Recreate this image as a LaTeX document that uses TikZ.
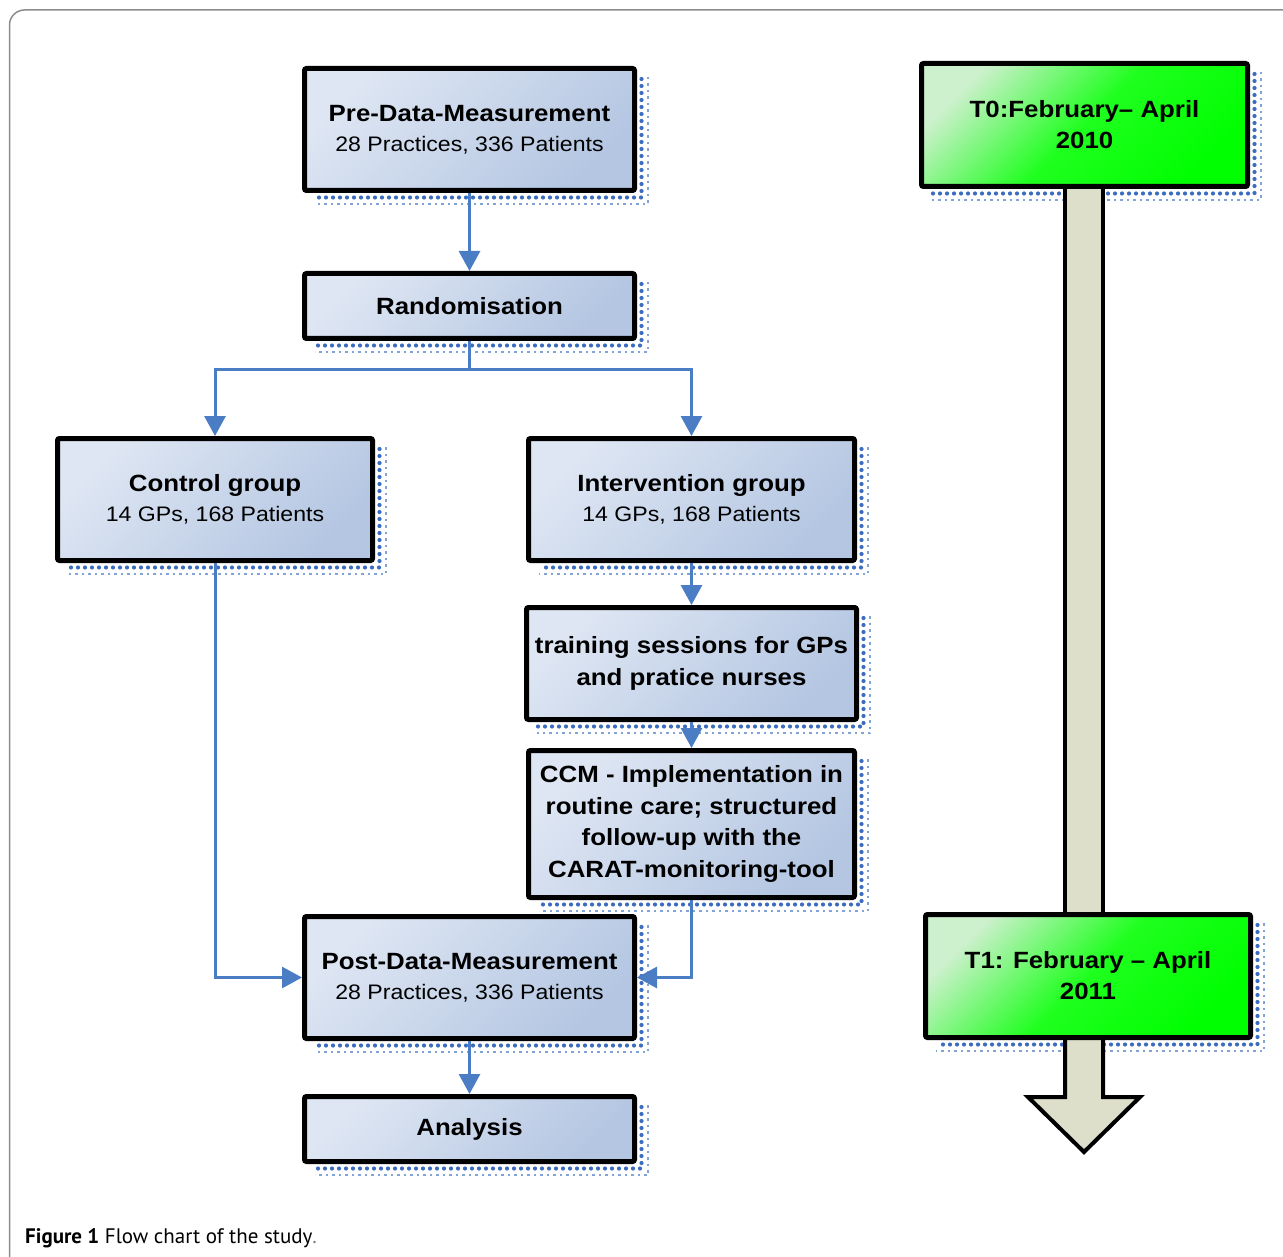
\documentclass[tikz,border=0pt]{standalone}
\usepackage{fontspec}
\setmainfont{Liberation Sans}[FakeStretch=1.1]
\newfontfamily\capfont{PT Sans}
\usetikzlibrary{arrows.meta,backgrounds,calc}
\definecolor{cblue}{RGB}{74,125,195}
\definecolor{sdot}{RGB}{60,108,192}
\definecolor{sfaint}{RGB}{130,163,215}
\definecolor{bL}{RGB}{222,230,243}
\definecolor{bR}{RGB}{180,198,226}
\definecolor{gL}{RGB}{205,240,205}
\definecolor{barfill}{RGB}{221,223,203}
\definecolor{framegray}{RGB}{140,140,140}
\newcommand\boxtitle[1]{{\bfseries\fontsize{23.5}{30}\selectfont #1}}
\tikzset{
  fbox/.style={draw=black, line width=5pt, rounded corners=2pt, top color=bL, bottom color=bR, shading angle=45, align=center, inner sep=0pt, font=\fontsize{21}{30}\selectfont},
  gbox/.style={draw=black, line width=5pt, rounded corners=2pt, top color=gL, bottom color=green, middle color=green!88!white, shading angle=45, align=center, inner sep=0pt, font=\bfseries\fontsize{23.5}{31}\selectfont},
  link/.style={draw=cblue, line width=3pt, -{Triangle[length=20pt,width=21pt]}},
  sdotline/.style={draw=sdot, line width=4.2pt, line cap=round, dash pattern=on 0pt off 7pt},
  sfaintline/.style={draw=sfaint, line width=1.5pt, dash pattern=on 2.5pt off 4pt},
  barsty/.style={draw=black, line width=4pt, fill=barfill},
}
\newcommand\dotshadow[1]{%
  \draw[sdotline] ($(#1.north east)+(4.5,13)$) -- ($(#1.south east)+(4.5,4.5)$) -- ($(#1.south west)+(13,4.5)$);
  \draw[sfaintline] ($(#1.north east)+(11,11)$) -- ($(#1.south east)+(11,11)$) -- ($(#1.south west)+(13,11)$);
}
\begin{document}
\begin{tikzpicture}[x=1pt,y=-1pt]
\useasboundingbox (0,0) rectangle (1283,1257);
\clip (0,0) rectangle (1283,1257);
\draw[framegray, line width=1.5pt, rounded corners=15pt] (1300,10) -- (9.5,10) -- (9.5,1280);

% flow boxes
\node[fbox, minimum width=330pt, minimum height=122pt] (pre) at (469.5,129.5)
  {\boxtitle{Pre-Data-Measurement}\\28 Practices, 336 Patients};
\node[fbox, minimum width=330pt, minimum height=65pt] (rand) at (469.5,306)
  {\boxtitle{Randomisation}};
\node[fbox, minimum width=315pt, minimum height=122pt] (ctrl) at (215,499.5)
  {\boxtitle{Control group}\\14 GPs, 168 Patients};
\node[fbox, minimum width=326pt, minimum height=122pt] (intv) at (691.5,499.5)
  {\boxtitle{Intervention group}\\14 GPs, 168 Patients};
\node[fbox, minimum width=330pt, minimum height=112pt, font=\bfseries\fontsize{23.5}{32}\selectfont] (train) at (691.5,663.5)
  {training sessions for GPs\\and pratice nurses};
\node[fbox, minimum width=326pt, minimum height=147pt, font=\bfseries\fontsize{23.5}{31.5}\selectfont] (ccm) at (691.5,824)
  {CCM - Implementation in\\routine care; structured\\follow-up with the\\CARAT-monitoring-tool};
\node[fbox, minimum width=330pt, minimum height=122pt] (post) at (469.5,977.5)
  {\boxtitle{Post-Data-Measurement}\\28 Practices, 336 Patients};
\node[fbox, minimum width=330pt, minimum height=65pt] (anal) at (469.5,1129)
  {\boxtitle{Analysis}};

% time line boxes
\node[gbox, minimum width=326pt, minimum height=123pt] (t0) at (1084.5,125)
  {T0:February-- April\\2010};
\node[gbox, minimum width=325pt, minimum height=123pt] (t1) at (1088,976)
  {T1: February -- April\\2011};

\begin{scope}[on background layer]
  \foreach \n in {pre,rand,ctrl,intv,train,ccm,post,anal,t0,t1} {\dotshadow{\n}}
  \draw[barsty] ([shift={(-19.5,-10)}]t0.south) rectangle ([shift={(15,8)}]t1.north);
  \draw[barsty] ([shift={(-23,-8)}]t1.south) -- ++(0,65) -- ++(-37,0) -- ++(56,55)
     -- ++(56,-55) -- ++(-37,0) -- ++(0,-65);
\end{scope}

% connectors
\draw[link] (pre) -- (rand);
\draw[link] (rand.south) -- ++(0,29) -| (ctrl.north);
\draw[link] (rand.south) -- ++(0,29) -| (intv.north);
\draw[link] (intv) -- (train);
\draw[link] (train) -- (ccm);
\draw[link] (ctrl.south) |- (post.west);
\draw[link] (ccm.south) |- (post.east);
\draw[link] (post) -- (anal);

\node[anchor=base west, inner sep=0pt, font=\capfont\fontsize{21}{24}\selectfont] (cap) at (25,1243)
  {\textbf{Figure 1} Flow chart of the study\textcolor{gray}{.}};
\end{tikzpicture}
\end{document}
